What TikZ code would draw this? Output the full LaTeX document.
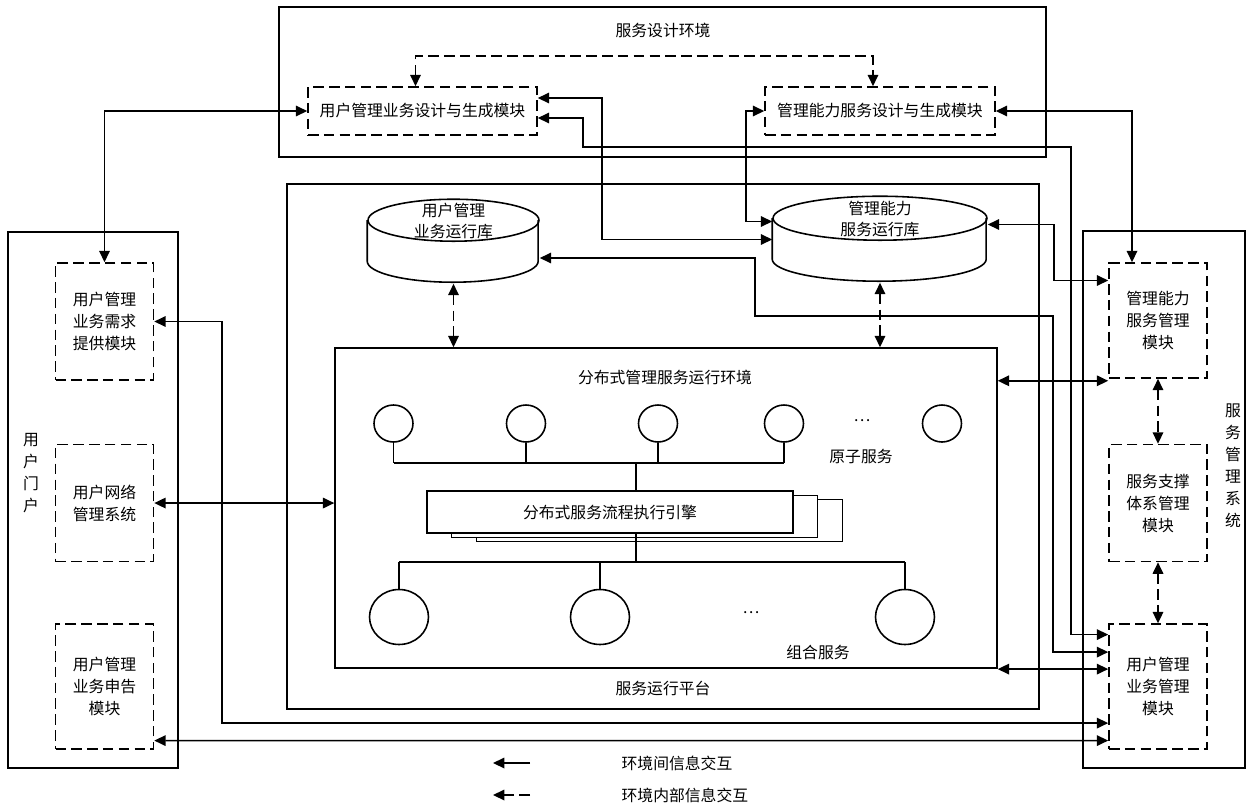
\documentclass[tikz,border=0pt]{standalone}
\usepackage{fontspec}
\setmainfont{Noto Sans CJK SC}
\usetikzlibrary{shapes.geometric,arrows.meta,positioning,calc}

\begin{document}
\begin{tikzpicture}[x=0.02cm, y=-0.02cm, >={Triangle[length=6.5pt,width=6pt]},
  font=\fontsize{9pt}{12.5pt}\selectfont, line width=0.9pt,
  frame/.style={draw, inner sep=0},
  module/.style={draw, dash pattern=on 6pt off 3pt, align=center, inner sep=0, minimum width=1.96cm},
  atom/.style={draw, ellipse, inner sep=0, minimum width=0.78cm, minimum height=0.74cm},
  combo/.style={draw, ellipse, inner sep=0, minimum width=1.18cm, minimum height=1.1cm},
  engbox/.style={draw, fill=white, inner sep=0, minimum width=7.32cm, minimum height=0.84cm},
  dbnode/.style={inner sep=0},
  link/.style={<->},
  dlink/.style={<->, dash pattern=on 6pt off 3pt}]
  \useasboundingbox (0,0) rectangle (1252,802);

  \node[frame, minimum width=15.34cm, minimum height=3cm] (design) at (662.5,82) {};
  \node[frame, minimum width=15.04cm, minimum height=10.5cm] (platform) at (663,446.5) {};
  \node[frame, minimum width=13.24cm, minimum height=6.4cm] (dist) at (666,508) {};
  \node[frame, minimum width=3.4cm, minimum height=10.72cm] (portal) at (93,500) {};
  \node[frame, minimum width=3.24cm, minimum height=10.74cm] (sms) at (1164,499.5) {};

  \node (design-t) at (663,30) {服务设计环境};
  \node (platform-t) at (663,688) {服务运行平台};
  \node (dist-t) at (665,377) {分布式管理服务运行环境};
  \node[align=center] (portal-t) at (31,473) {用\\户\\门\\户};
  \node[align=center] (sms-t) at (1233,466) {服\\务\\管\\理\\系\\统};

  \node[module, minimum width=4.58cm, minimum height=0.96cm] (umd) at (422.5,111) {用户管理业务设计与生成模块};
  \node[module, minimum width=4.6cm, minimum height=0.96cm] (mcd) at (880,111) {管理能力服务设计与生成模块};

  \node[module, minimum height=2.34cm] (umr) at (104.5,321.5) {用户管理\\业务需求\\提供模块};
  \node[module, minimum height=2.34cm, below=1.26cm of umr] (unm) {用户网络\\管理系统};
  \node[module, minimum height=2.5cm, below=1.22cm of unm] (uma) {用户管理\\业务申告\\模块};

  \node[module, minimum height=2.3cm] (mcm) at (1158,320.5) {管理能力\\服务管理\\模块};
  \node[module, minimum height=2.34cm, below=1.3cm of mcm] (ssm) {服务支撑\\体系管理\\模块};
  \node[module, minimum height=2.5cm, below=1.22cm of ssm] (umm) {用户管理\\业务管理\\模块};

  \node[dbnode, minimum width=3.42cm, minimum height=1.66cm] (udb) at (453.5,241.5) {};
  \draw (udb.north) ++(0,21) ellipse [x radius=1.71cm, y radius=0.42cm];
  \draw (udb.north west) ++(0,21) -- ++(0,41) arc[start angle=180, end angle=360, x radius=1.71cm, y radius=0.42cm] -- ++(0,-41);
  \node[align=center] (udb-t) at (453.5,221) {用户管理\\业务运行库};

  \node[dbnode, minimum width=4.28cm, minimum height=1.7cm] (mdb) at (880,239.5) {};
  \draw (mdb.north) ++(0,22) ellipse [x radius=2.14cm, y radius=0.44cm];
  \draw (mdb.north west) ++(0,22) -- ++(0,41) arc[start angle=180, end angle=360, x radius=2.14cm, y radius=0.44cm] -- ++(0,-41);
  \node[align=center] (mdb-t) at (880,219) {管理能力\\服务运行库};

  \foreach \x [count=\i] in {393.5,526,658,784,942}
    \node[atom] (a\i) at (\x,423.5) {};
  \node (adots) at (862,421) {…};
  \node (a-t) at (861,456) {原子服务};
  \coordinate (abus) at (636,463);
  \foreach \i in {1,...,4}
    \draw (a\i.south) -- (a\i.south |- abus);
  \draw (a1.south |- abus) -- (a4.south |- abus);

  \node[engbox] (eng3) at (659.5,520.5) {};
  \node[engbox] (eng2) at (634.5,516.5) {};
  \node[engbox] (eng) at (610,512) {分布式服务流程执行引擎};
  \draw (abus) -- (abus |- eng.north);

  \coordinate (cbus) at (636,562);
  \draw (cbus |- eng.south) -- (cbus);
  \foreach \x [count=\i] in {399,600,905}
    \node[combo] (c\i) at (\x,617) {};
  \foreach \i in {1,2,3}
    \draw (c\i.north) -- (c\i.north |- cbus);
  \draw (c1.north |- cbus) -- (c3.north |- cbus);
  \node (cdots) at (751,613) {…};
  \node (c-t) at (818,652) {组合服务};

  \draw[link] (umr.north) |- (umd.west);
  \draw[link] (mcd.east) -| ([xshift=-0.52cm]mcm.north);
  \draw[link] ($(umd.east)+(0,-13)$) -- ++(64,0) |- (mdb.west);
  \draw[link] ($(umd.east)+(0,7)$) -- ++(45,0) |- (1071,147) |- ($(umm.west)+(0,-52)$);
  \draw[link] (mcd.west) -- ++(-18,0) |- ($(mdb.west)+(0,-18)$);
  \draw[link] ($(mdb.east)+(0,-15)$) -- ++(66,0) |- ($(mcm.west)+(0,-40)$);
  \draw[link] ($(udb.east)+(0,16.5)$) -- ++(215,0) |- (1053,316) |- ($(umm.west)+(0,-34.5)$);
  \draw[link] (umr.east) -- ++(68,0) |- ($(umm.west)+(0,36.5)$);
  \draw[link] ($(uma.east)+(0,54)$) -- ($(umm.west)+(0,54)$);
  \draw[link] (unm.east) -- (unm.east -| dist.west);
  \coordinate (mcm-in) at ($(mcm.south west)+(0,2)$);
  \draw[link] (dist.east |- mcm-in) -- (mcm-in);
  \coordinate (umm-in) at ($(umm.west)+(0,-17.5)$);
  \draw[link] (dist.east |- umm-in) -- (umm-in);

  \draw[dlink] ($(umd.north)+(-7,0)$) -- ++(0,-30) -| ($(mcd.north)+(-7,0)$);
  \draw[dlink] (udb.south) -- (udb.south |- dist.north);
  \draw[dlink] (mdb.south) -- (mdb.south |- dist.north);
  \draw[dlink] (mcm.south) -- (ssm.north);
  \draw[dlink] (ssm.south) -- (umm.north);

  \coordinate (lg1) at (530,763);
  \coordinate (lg1e) at (493,763);
  \draw[->] (lg1) -- (lg1e);
  \node[anchor=west] (lg1-t) at (615,763) {环境间信息交互};
  \coordinate (lg2) at (530,795);
  \coordinate (lg2e) at (493,795);
  \draw[->, dash pattern=on 6pt off 3pt] (lg2) -- (lg2e);
  \node[anchor=west] (lg2-t) at (615,795) {环境内部信息交互};
\end{tikzpicture}
\end{document}
